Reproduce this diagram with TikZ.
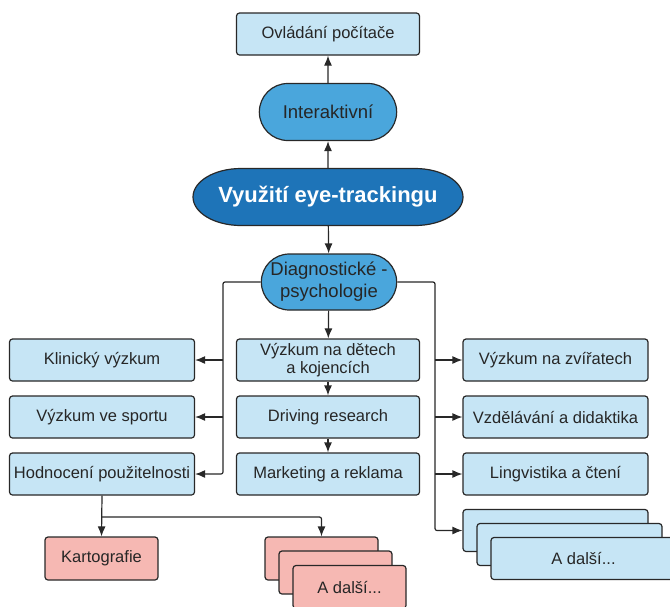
\documentclass[tikz,border=0pt]{standalone}
\usepackage{fontspec}
\setmainfont{Liberation Sans}
\usepackage{tikz}
\usetikzlibrary{shapes.misc,arrows.meta,positioning,calc,backgrounds}
\usepackage{xcolor}
\definecolor{boxblue}{RGB}{198,229,245}
\definecolor{pillblue}{RGB}{74,166,220}
\definecolor{mainblue}{RGB}{30,116,184}
\definecolor{boxpink}{RGB}{246,184,179}
\definecolor{edgegray}{RGB}{40,40,40}
\tikzset{
    field/.style={rectangle, rounded corners=3pt, draw=edgegray, fill=boxblue, line width=1.2pt, minimum width=185pt, minimum height=42pt, align=center, text=black!85, font=\fontsize{16.5}{18.5}\selectfont},
    fieldR/.style={field, fill=boxpink, minimum width=113pt, minimum height=43pt},
    pill/.style={rounded rectangle, draw=edgegray, fill=pillblue, line width=1.2pt, minimum width=144pt, minimum height=57pt, align=center, text=black!85, font=\fontsize{18.5}{22}\selectfont},
    mainpill/.style={rectangle, minimum width=270pt, minimum height=57pt, text=white, font=\fontsize{22}{24}\selectfont\bfseries},
    mainshape/.style={draw=edgegray, fill=mainblue, line width=1.2pt},
    link/.style={line width=1.2pt, edgegray, rounded corners=2pt},
    arr/.style={link, -{Latex[length=10pt,width=8pt]}},
}
\begin{document}
\begin{tikzpicture}[x=1pt, y=-1pt]
    \useasboundingbox (0,0) rectangle (670,606);
    \node[mainpill] (vyuziti) at (328,197) {Využití eye-trackingu};
    \begin{scope}[on background layer]
        \draw[mainshape] ($(vyuziti.center)+(-87,-28.5)$) arc[start angle=90, end angle=270, x radius=48pt, y radius=28.5pt]
            -- ++(174,0) arc[start angle=-90, end angle=90, x radius=48pt, y radius=28.5pt] -- cycle;
    \end{scope}
    \node[pill] (inter) at (328,112) {Interaktivní};
    \node[field, minimum width=183pt] (ovladani) at (328,34) {Ovládání počítače};
    \node[pill, minimum width=142pt, minimum height=56pt] (diag) at (329,282) {Diagnostické -\\psychologie};
    \foreach \y/\name/\txt in {360/klin/Klinický výzkum, 417/sport/Výzkum ve sportu, 474/hodn/Hodnocení použitelnosti} {
        \node[field] (\name) at (102,\y) {\txt};
    }
    \foreach \y/\name/\txt in {360/deti/{Výzkum na dětech\\a kojencích}, 417/driv/Driving research, 474/mark/Marketing a reklama} {
        \node[field, minimum width=183pt] (\name) at (328,\y) {\txt};
    }
    \foreach \y/\name/\txt in {360/zvir/Výzkum na zvířatech, 417/vzdel/Vzdělávání a didaktika, 474/lingv/Lingvistika a čtení} {
        \node[field] (\name) at (555.5,\y) {\txt};
    }
    \node[field] (dalsiA) at (555.5,530.5) {};
    \node[field] (dalsiB) at (569.5,544.5) {};
    \node[field] (dalsiC) at (583.5,558.5) {A další...};
    \node[fieldR] (karto) at (101.5,558.5) {Kartografie};
    \node[fieldR] (pinkA) at (321.5,558.5) {};
    \node[fieldR] (pinkB) at (335.5,572.5) {};
    \node[fieldR] (pinkC) at (349.5,587) {A další...};

    \coordinate (lbus) at (223,0);
    \coordinate (rbus) at (435,0);
    \coordinate (split) at (101.5,517);

    \draw[arr] (vyuziti) -- (inter);
    \draw[arr] (inter) -- (ovladani);
    \draw[arr] (vyuziti) -- (diag);
    \draw[arr] (diag) -- (deti);
    \draw[arr] (deti) -- (driv);
    \draw[arr] (driv) -- (mark);
    \draw[arr] (diag.west) -| (lbus |- hodn.east) -- (hodn.east);
    \foreach \name in {klin, sport} {
        \draw[arr] (lbus |- \name.east) -- (\name.east);
    }
    \draw[arr] (diag.east) -| (rbus |- dalsiA.west) -- (dalsiA.west);
    \foreach \name in {zvir, vzdel, lingv} {
        \draw[arr] (rbus |- \name.west) -- (\name.west);
    }
    \draw[arr] (hodn.south) -- (karto.north);
    \draw[arr] (split) -| (pinkA.north);
\end{tikzpicture}
\end{document}
